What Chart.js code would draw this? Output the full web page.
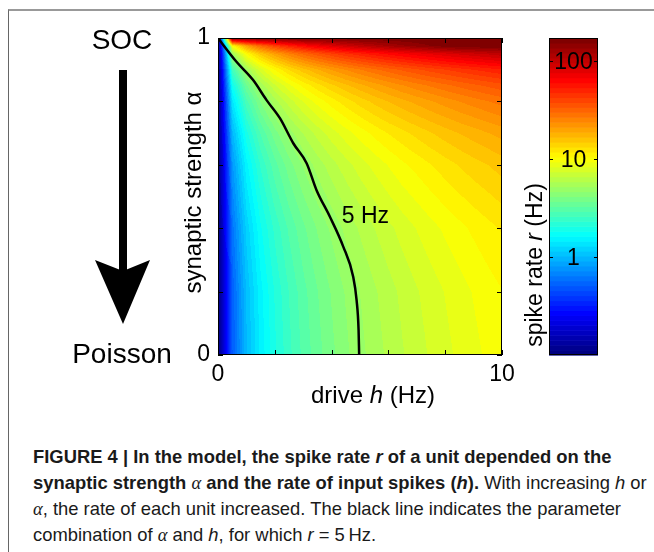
<!DOCTYPE html>
<html>
<head>
<meta charset="utf-8">
<script src="https://cdn.jsdelivr.net/npm/chart.js@4.4.1/dist/chart.umd.min.js"></script>
<style>
  body { margin: 0; background: #fff; }
  #wrap { position: relative; width: 654px; height: 552px; overflow: hidden; background: #fff; }
  #frame { position: absolute; left: 8px; top: 9px; width: 700px; height: 600px;
           border-top: 2px solid #999; border-left: 1px solid #666; }
  #plot { position: absolute; left: 0; top: 0; width: 654px; height: 420px; }
  #caption { position: absolute; left: 33px; top: 444px; white-space: nowrap; transform-origin: 0 0;
             font-family: "Liberation Sans", Arial, sans-serif;
             font-size: 19px; line-height: 26px; color: #1a1a1a; }
  #caption .ln { display: inline-block; }
  #caption .m { font-family: "Liberation Serif", "DejaVu Serif", serif; font-style: italic; font-weight: normal; }
</style>
</head>
<body>
<div id="wrap">
  <div id="frame"></div>
  <div id="plot"><canvas id="myChart"></canvas></div>
  <div id="caption"><span class="ln"><b>FIGURE 4 | In the model, the spike rate <i>r</i> of a unit depended on the</b></span><br><span class="ln" id="ln2"><b>synaptic strength <span class="m">α</span> and the rate of input spikes (<i>h</i>).</b> With increasing <i>h</i> or</span><br><span class="ln"><span class="m">α</span>, the rate of each unit increased. The black line indicates the parameter</span><br><span class="ln">combination of <span class="m">α</span> and <i>h</i>, for which <i>r</i> = 5&#8201;Hz.</span></div>
</div>
<script>
// grid of the rate map: columns = drive h (Hz), rows = synaptic strength alpha
const hGrid = [0, 0.5, 1, 1.5, 2, 2.5, 3, 3.5, 4, 4.5, 5, 5.5, 6, 6.5, 7, 7.5, 8, 8.5, 9, 9.5, 10];
const alphaGrid = [0, 0.2, 0.4, 0.6, 0.7, 0.8, 0.85, 0.9, 0.95, 0.975, 1];

// spike rate r (Hz), one array per alpha row
const rateA000 = [0, 0.5, 1, 1.5, 2, 2.5, 3, 3.5, 4, 4.5, 5, 5.5, 6, 6.5, 7, 7.5, 8, 8.5, 9, 9.5, 10];
const rateA020 = [0, 0.52, 1.04, 1.56, 2.08, 2.6, 3.13, 3.65, 4.17, 4.69, 5.21, 5.73, 6.25, 6.77, 7.29, 7.81, 8.33, 8.85, 9.38, 9.9, 10.4];
const rateA040 = [0, 0.6, 1.19, 1.79, 2.38, 2.98, 3.57, 4.17, 4.76, 5.36, 5.95, 6.55, 7.14, 7.74, 8.33, 8.93, 9.52, 10.1, 10.7, 11.3, 11.9];
const rateA060 = [0, 0.78, 1.56, 2.34, 3.13, 3.91, 4.69, 5.47, 6.25, 7.03, 7.81, 8.59, 9.38, 10.2, 10.9, 11.7, 12.5, 13.3, 14.1, 14.8, 15.6];
const rateA070 = [0, 0.98, 1.96, 2.94, 3.92, 4.9, 5.88, 6.86, 7.84, 8.82, 9.8, 10.8, 11.8, 12.7, 13.7, 14.7, 15.7, 16.7, 17.6, 18.6, 19.6];
const rateA080 = [0, 1.39, 2.78, 4.17, 5.56, 6.94, 8.33, 9.72, 11.1, 12.5, 13.9, 15.3, 16.7, 18.1, 19.4, 20.8, 22.2, 23.6, 25, 26.4, 27.8];
const rateA085 = [0, 1.8, 3.6, 5.41, 7.21, 9.01, 10.8, 12.6, 14.4, 16.2, 18, 19.8, 21.6, 23.4, 25.2, 27, 28.8, 30.6, 32.4, 34.2, 36];
const rateA090 = [0, 2.63, 5.26, 7.89, 10.5, 13.2, 15.8, 18.4, 21.1, 23.7, 26.3, 28.9, 31.6, 34.2, 36.8, 39.5, 42.1, 44.7, 47.4, 50, 52.6];
const rateA095 = [0, 5.13, 10.3, 15.4, 20.5, 25.6, 30.8, 35.9, 41, 46.2, 51.3, 56.4, 61.5, 66.7, 71.8, 76.9, 82, 87.2, 92.3, 97.4, 103];
const rateA0975 = [0, 10.1, 20.3, 30.4, 40.5, 50.6, 60.8, 70.9, 81, 91.1, 101, 111, 122, 132, 142, 152, 162, 170, 170, 170, 170];
const rateA100 = [0, 170, 170, 170, 170, 170, 170, 170, 170, 170, 170, 170, 170, 170, 170, 170, 170, 170, 170, 170, 170];
const rateRows = [rateA000, rateA020, rateA040, rateA060, rateA070, rateA080, rateA085, rateA090, rateA095, rateA0975, rateA100];

// the 5 Hz contour
const contourH = [0, 0.1, 0.65, 1.23, 1.71, 2.18, 2.65, 3.12, 3.47, 3.94, 4.41, 4.76, 4.88, 4.95, 4.97];
const contourAlpha = [1, 0.988, 0.925, 0.868, 0.804, 0.747, 0.668, 0.605, 0.52, 0.436, 0.342, 0.247, 0.173, 0.079, 0];

// ticks
const hTicks = [0, 2, 4, 6, 8, 10];
const alphaTicks = [0, 0.2, 0.4, 0.6, 0.8, 1];
const rateTicks = [1, 10, 100];
const rateMin = 0.1, rateMax = 170;   // colour bar range

const F = '"Liberation Sans", Arial, Helvetica, sans-serif';

function jet(t) {
    const k = Math.min(63, Math.max(0, Math.floor(t * 64)));
    const x = k / 63;
    const c = v => Math.round(255 * Math.min(1, Math.max(0, v)));
    return [c(1.5 - Math.abs(4 * x - 3)), c(1.5 - Math.abs(4 * x - 2)), c(1.5 - Math.abs(4 * x - 1))];
}

function locate(arr, v) {
    v = Math.min(arr[arr.length - 1], Math.max(arr[0], v));
    let k = 0;
    while (k < arr.length - 2 && v > arr[k + 1]) k++;
    return [k, (v - arr[k]) / (arr[k + 1] - arr[k])];
}

function drawRuns(ctx, runs, x, y) {
    // runs of [text, font], centred on x
    let total = 0;
    runs.forEach(r => { ctx.font = r[1]; total += ctx.measureText(r[0]).width; });
    let cx = x - total / 2;
    ctx.textAlign = 'left';
    runs.forEach(r => { ctx.font = r[1]; ctx.fillText(r[0], cx, y); cx += ctx.measureText(r[0]).width; });
}

function line(ctx, x0, y0, x1, y1) {
    ctx.beginPath(); ctx.moveTo(x0, y0); ctx.lineTo(x1, y1); ctx.stroke();
}

//Paints the rate map behind the contour line, pixel by pixel through the chart scales.
const heatmapPlugin = {
    id: 'heatmap',
    beforeDatasetsDraw(chart) {
        const ca = chart.chartArea, xs = chart.scales.x, ys = chart.scales.y;
        const w = Math.round(ca.right - ca.left), hh = Math.round(ca.bottom - ca.top);
        const lMin = Math.log10(rateMin), lMax = Math.log10(rateMax);
        const logRows = rateRows.map(row => row.map(v => Math.log10(Math.min(rateMax, Math.max(rateMin, v)))));
        const off = document.createElement('canvas');
        off.width = w; off.height = hh;
        const octx = off.getContext('2d');
        const img = octx.createImageData(w, hh);
        const cols = [];
        for (let px = 0; px < w; px++) cols.push(locate(hGrid, xs.getValueForPixel(ca.left + px + 0.5)));
        for (let py = 0; py < hh; py++) {
            const [j, tj] = locate(alphaGrid, ys.getValueForPixel(ca.top + py + 0.5));
            for (let px = 0; px < w; px++) {
                const [i, ti] = cols[px];
                const l0 = logRows[j][i] * (1 - ti) + logRows[j][i + 1] * ti;
                const l1 = logRows[j + 1][i] * (1 - ti) + logRows[j + 1][i + 1] * ti;
                const c = jet((l0 * (1 - tj) + l1 * tj - lMin) / (lMax - lMin));
                const o = (py * w + px) * 4;
                img.data[o] = c[0]; img.data[o + 1] = c[1]; img.data[o + 2] = c[2]; img.data[o + 3] = 255;
            }
        }
        octx.putImageData(img, 0, 0);
        chart.ctx.drawImage(off, ca.left, ca.top);
    }
};

//Frame, ticks, titles, colour bar and the SOC / Poisson arrow.
const overlayPlugin = {
    id: 'overlay',
    afterDraw(chart) {
        const ctx = chart.ctx, ca = chart.chartArea;
        const xs = chart.scales.x, ys = chart.scales.y, rs = chart.scales.rate;
        ctx.save();
        ctx.fillStyle = '#000';
        ctx.strokeStyle = '#000';
        ctx.lineWidth = 1;

        // box and inward ticks
        ctx.strokeRect(ca.left + 0.5, ca.top + 0.5, ca.right - ca.left - 1, ca.bottom - ca.top - 1);
        hTicks.forEach(v => {
            const px = Math.round(xs.getPixelForValue(v)) + 0.5;
            line(ctx, px, ca.bottom, px, ca.bottom - 5);
            line(ctx, px, ca.top, px, ca.top + 5);
        });
        alphaTicks.forEach(v => {
            const py = Math.round(ys.getPixelForValue(v)) + 0.5;
            line(ctx, ca.left, py, ca.left + 5, py);
            line(ctx, ca.right, py, ca.right - 5, py);
        });

        // contour label
        ctx.font = '23px ' + F;
        ctx.textAlign = 'left';
        ctx.textBaseline = 'alphabetic';
        ctx.fillText('5 Hz', xs.getPixelForValue(4.36), ys.getPixelForValue(0.416));

        // axis titles
        drawRuns(ctx, [['drive ', '24px ' + F], ['h', 'italic 24px ' + F], [' (Hz)', '24px ' + F]], 373, 403);
        ctx.save();
        ctx.translate(201, (ca.top + ca.bottom) / 2 - 4);
        ctx.rotate(-Math.PI / 2);
        drawRuns(ctx, [['synaptic strength α', '24px ' + F]], 0, 0);
        ctx.restore();

        // colour bar
        const cbL = ca.right + 47, cbR = ca.right + 96;
        const lMin = Math.log10(rateMin), lMax = Math.log10(rateMax);
        for (let i = 0; i < 64; i++) {
            const y0 = rs.getPixelForValue(Math.pow(10, lMin + (lMax - lMin) * i / 64));
            const y1 = rs.getPixelForValue(Math.pow(10, lMin + (lMax - lMin) * (i + 1) / 64));
            const c = jet((i + 0.5) / 64);
            ctx.fillStyle = 'rgb(' + c.join(',') + ')';
            ctx.fillRect(cbL, y1, cbR - cbL, y0 - y1 + 0.6);
        }
        ctx.fillStyle = '#000';
        ctx.strokeRect(cbL + 0.5, ca.top + 0.5, cbR - cbL - 1, ca.bottom - ca.top - 1);
        ctx.font = '23px ' + F;
        ctx.textAlign = 'center';
        ctx.textBaseline = 'middle';
        rateTicks.forEach(v => {
            const py = Math.round(rs.getPixelForValue(v)) + 0.5;
            line(ctx, cbL, py, cbL + 4, py);
            line(ctx, cbR, py, cbR - 4, py);
            ctx.fillText(String(v), (cbL + cbR) / 2, py + 1);
        });
        ctx.textBaseline = 'alphabetic';
        ctx.save();
        ctx.translate(cbL - 7, 265);
        ctx.rotate(-Math.PI / 2);
        drawRuns(ctx, [['spike rate ', '23px ' + F], ['r', 'italic 23px ' + F], [' (Hz)', '23px ' + F]], 0, 0);
        ctx.restore();

        // SOC -> Poisson arrow
        ctx.font = '28px ' + F;
        ctx.textAlign = 'center';
        ctx.fillText('SOC', 122, 49);
        ctx.fillText('Poisson', 122, 363);
        ctx.fillRect(119, 70, 8, 203);
        ctx.beginPath();
        ctx.moveTo(95, 260);
        ctx.lineTo(123, 271);
        ctx.lineTo(150, 260);
        ctx.lineTo(123, 324);
        ctx.closePath();
        ctx.fill();
        ctx.restore();
    }
};

const ctx = document.getElementById('myChart').getContext('2d');
const tickFont = { family: F, size: 23 };
const myChart = new Chart(ctx, {
    type: 'scatter',
    data: {
        datasets: [{
            label: '5 Hz',
            data: contourH.map((h, i) => ({ x: h, y: contourAlpha[i] })),
            showLine: true,
            borderColor: '#000',
            borderWidth: 2.5,
            pointRadius: 0,
            cubicInterpolationMode: 'monotone'
        }]
    },
    options: {
        responsive: true,
        maintainAspectRatio: false,
        animation: false,
        layout: { padding: { left: 170, top: 38, right: 152, bottom: 10 } },
        plugins: { legend: { display: false }, tooltip: { enabled: false } },
        scales: {
            x: {
                type: 'linear', min: 0, max: 10,
                ticks: { stepSize: 10, font: tickFont, color: '#000', padding: 6, maxRotation: 0 },
                grid: { display: false, drawTicks: false },
                border: { display: false },
                afterFit: s => { s.height = 55; }
            },
            y: {
                type: 'linear', min: 0, max: 1,
                ticks: { stepSize: 1, font: tickFont, color: '#000', padding: 8 },
                grid: { display: false, drawTicks: false },
                border: { display: false },
                afterFit: s => { s.width = 48; }
            },
            rate: { type: 'logarithmic', position: 'right', display: false, min: rateMin, max: rateMax }
        }
    },
    plugins: [heatmapPlugin, overlayPlugin]
});

// squeeze the caption horizontally so its second line spans the same width as in the figure
const cap = document.getElementById('caption');
const w2 = document.getElementById('ln2').getBoundingClientRect().width;
cap.style.transform = 'scaleX(' + (614 / w2).toFixed(3) + ')';
</script>
</body>
</html>
